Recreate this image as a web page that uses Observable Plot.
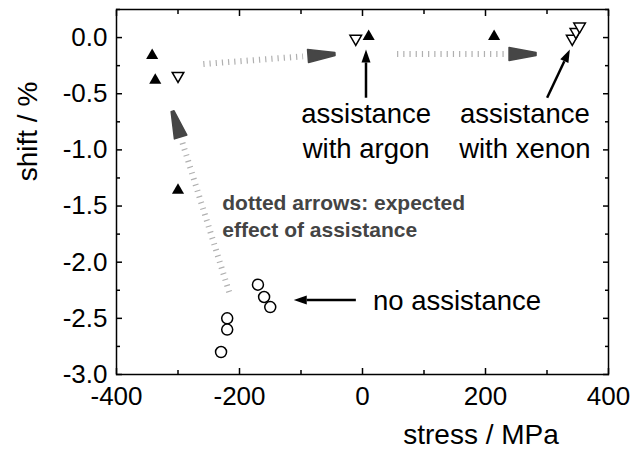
<!DOCTYPE html>
<html>
<head>
<meta charset="utf-8">
<script src="https://cdn.jsdelivr.net/npm/d3@7"></script>
<script src="https://cdn.jsdelivr.net/npm/@observablehq/plot@0.6"></script>
<style>
  body { margin: 0; background: #fff; }
  #chart svg { display: block; }
</style>
</head>
<body>
<div id="chart"></div>
<script>
// Peak shift versus residual stress for films grown with and without ion assistance.

// Ion-assisted films (filled triangles)
const assistedStress = [-342, -337, -300, 10, 214];
const assistedShift  = [-0.16, -0.38, -1.36, 0.01, 0.01];

// Films after annealing (open, downward triangles)
const annealedStress = [-300, -11, 341, 347, 353];
const annealedShift  = [-0.34, -0.01, -0.01, 0.05, 0.10];

// Films without assistance (open circles)
const plainStress = [-170, -160, -150, -220, -220, -230];
const plainShift  = [-2.20, -2.31, -2.40, -2.50, -2.60, -2.80];

// Axis tick values
const xTickValues = [-400, -200, 0, 200, 400];
const xMinorValues = [-300, -100, 100, 300];
const yTickValues = [0, -0.5, -1.0, -1.5, -2.0, -2.5, -3.0];
const yMinorValues = [0.25, -0.25, -0.75, -1.25, -1.75, -2.25, -2.75];

// Axis titles
const xTitle = "stress / MPa";
const yTitle = "shift / %";

// Dotted guide arrows: expected effect of assistance (tail -> tip)
const guideX1 = [-258, 57, -216];
const guideY1 = [-0.24, -0.15, -2.27];
const guideX2 = [-44, 283, -308];
const guideY2 = [-0.15, -0.15, -0.66];

// Solid pointer arrows for the annotations (tail -> tip)
const pointerX1 = [-10, 6.5, 301];
const pointerY1 = [-2.34, -0.54, -0.54];
const pointerX2 = [-111, 6.5, 338];
const pointerY2 = [-2.34, -0.11, -0.11];

// Annotation labels
const noteText = ["assistance\nwith argon", "assistance\nwith xenon"];
const noteX = [6, 264];
const noteY = [-0.815, -0.815];

const font = "Liberation Sans, Arial, Helvetica, sans-serif";

function arrowGeometry(x1, y1, x2, y2, headLen) {
  const dx = x2 - x1, dy = y2 - y1, len = Math.hypot(dx, dy);
  const ux = dx / len, uy = dy / len;
  return {ux, uy, nx: -uy, ny: ux, bx: x2 - ux * headLen, by: y2 - uy * headLen};
}

// Grey dotted shafts ending in dark tapered heads
function guideArrows(index, {x, y}) {
  const g = d3.create("svg:g");
  for (let i = 0; i < guideX1.length; i++) {
    const x1 = x(guideX1[i]), y1 = y(guideY1[i]), x2 = x(guideX2[i]), y2 = y(guideY2[i]);
    const {ux, uy, nx, ny, bx, by} = arrowGeometry(x1, y1, x2, y2, 27);
    g.append("line")
      .attr("x1", x1).attr("y1", y1)
      .attr("x2", bx - ux * 5).attr("y2", by - uy * 5)
      .attr("stroke", "#b0b0b0").attr("stroke-width", 6)
      .attr("stroke-dasharray", "1.2 5");
    g.append("path")
      .attr("d", `M${bx + nx * 6.5},${by + ny * 6.5}L${x2 + nx * 1.5},${y2 + ny * 1.5}L${x2 - nx * 1.5},${y2 - ny * 1.5}L${bx - nx * 6.5},${by - ny * 6.5}Z`)
      .attr("fill", "#464646").attr("stroke", "#464646")
      .attr("stroke-width", 1.5).attr("stroke-linejoin", "round");
  }
  return g.node();
}

// Black pointer arrows with filled heads
function pointerArrows(index, {x, y}) {
  const g = d3.create("svg:g");
  for (let i = 0; i < pointerX1.length; i++) {
    const x1 = x(pointerX1[i]), y1 = y(pointerY1[i]), x2 = x(pointerX2[i]), y2 = y(pointerY2[i]);
    const {nx, ny, bx, by} = arrowGeometry(x1, y1, x2, y2, 13);
    g.append("line")
      .attr("x1", x1).attr("y1", y1).attr("x2", bx).attr("y2", by)
      .attr("stroke", "black").attr("stroke-width", 2.5);
    g.append("path")
      .attr("d", `M${x2},${y2}L${bx + nx * 4.5},${by + ny * 4.5}L${bx - nx * 4.5},${by - ny * 4.5}Z`)
      .attr("fill", "black");
  }
  return g.node();
}

// Axis titles placed relative to the plot frame
function axisTitles(index, scales, values, {width, height, marginLeft, marginTop, marginBottom}) {
  const g = d3.create("svg:g")
    .attr("font-family", font).attr("font-size", 28).attr("fill", "black")
    .attr("text-anchor", "middle");
  g.append("text")
    .attr("x", marginLeft + 365).attr("y", height - marginBottom + 70)
    .text(xTitle);
  g.append("text")
    .attr("transform", `translate(${marginLeft - 79},${marginTop + 122.5}) rotate(-90)`)
    .text(yTitle);
  return g.node();
}

const tickAxes = [];
for (const anchor of ["bottom", "top"]) {
  tickAxes.push(Plot.axisX({anchor, ticks: xTickValues, tickSize: -6, strokeWidth: 1.5, fill: "none", label: null}));
  tickAxes.push(Plot.axisX({anchor, ticks: xMinorValues, tickSize: -4, strokeWidth: 1.5, fill: "none", label: null}));
}
for (const anchor of ["left", "right"]) {
  tickAxes.push(Plot.axisY({anchor, ticks: yTickValues, tickSize: -6, strokeWidth: 1.5, fill: "none", label: null}));
  tickAxes.push(Plot.axisY({anchor, ticks: yMinorValues, tickSize: -4, strokeWidth: 1.5, fill: "none", label: null}));
}

const chart = Plot.plot({
  width: 632,
  height: 450,
  marginLeft: 116,
  marginRight: 24,
  marginTop: 9,
  marginBottom: 76,
  style: {fontFamily: font, fontSize: "26px", background: "white", color: "black"},
  x: {domain: [-400, 400], label: null},
  y: {domain: [-3.0, 0.25], label: null},
  marks: [
    ...tickAxes,
    Plot.axisX({anchor: "bottom", ticks: xTickValues, tickSize: 0, tickPadding: 12,
      tickFormat: d => String(d), fontSize: 26, label: null}),
    Plot.axisY({anchor: "left", ticks: yTickValues, tickSize: 0, tickPadding: 9,
      tickFormat: d => d.toFixed(1), fontSize: 26, label: null}),
    axisTitles,
    guideArrows,
    pointerArrows,
    Plot.text(noteText, {x: noteX, y: noteY, fontSize: 27.5, lineHeight: 1.28, textAnchor: "middle", fill: "black"}),
    Plot.text(["no assistance"], {x: [17], y: [-2.345], fontSize: 27.5, textAnchor: "start", fill: "black"}),
    Plot.text(["dotted arrows: expected\neffect of assistance"], {x: [-228], y: [-1.58], fontSize: 21,
      fontWeight: "bold", lineHeight: 1.27, textAnchor: "start", fill: "#444"}),
    Plot.dot(plainStress, {x: plainStress, y: plainShift, r: 5.5, fill: "white", stroke: "black", strokeWidth: 1.5}),
    Plot.dot(annealedStress, {x: annealedStress, y: annealedShift, symbol: "triangle", rotate: 180, r: 4.3,
      fill: "white", stroke: "black", strokeWidth: 1.5}),
    Plot.dot(assistedStress, {x: assistedStress, y: assistedShift, symbol: "triangle", r: 4.5, fill: "black", stroke: "none"}),
    Plot.frame({stroke: "black", strokeWidth: 1.5})
  ]
});

document.getElementById("chart").appendChild(chart);
</script>
</body>
</html>
